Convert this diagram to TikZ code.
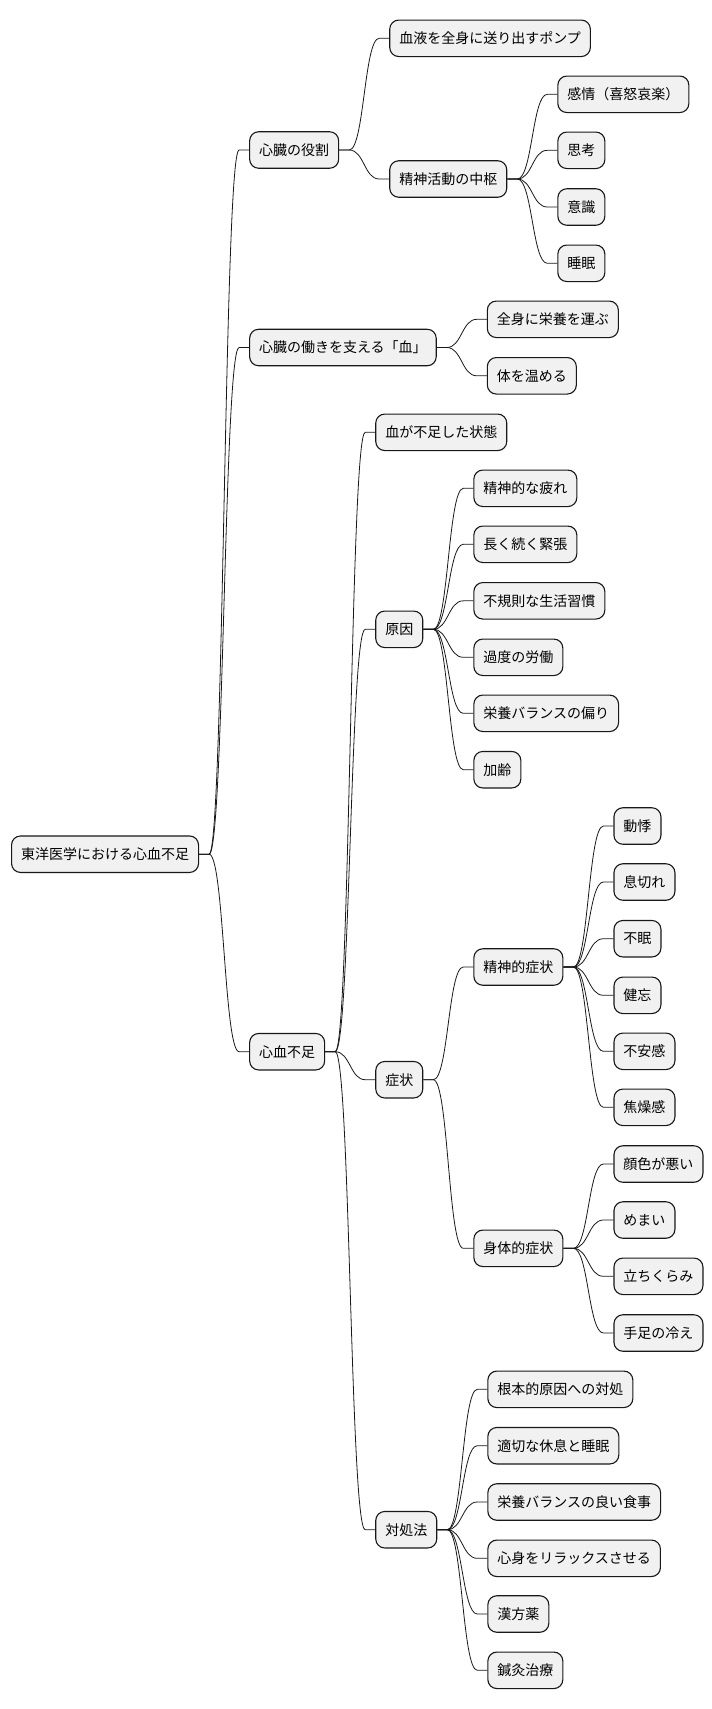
\documentclass[tikz,border=0pt]{standalone}
\usepackage{fontspec}
\setmainfont{Noto Sans CJK JP}
\usetikzlibrary{calc}
\definecolor{boxfill}{HTML}{F1F1F1}
\definecolor{boxline}{HTML}{181818}
\tikzset{
  mmbox/.style={draw=boxline, fill=boxfill, line width=1.1pt, rounded corners=9pt,
    minimum height=36.5pt, inner xsep=9.5pt, inner ysep=0pt, font=\fontsize{14pt}{16pt}\selectfont, text=black},
  mmline/.style={draw=boxline, line width=0.8pt}
}
\newcommand\kid[4]{%
  \path let \p1=(#1.east) in node[mmbox,anchor=west] (#2) at (\x1+50pt,-#3pt) {#4};
  \draw[mmline] let \p1=(#1.east), \p2=(#2.west) in (\p1) -- (\x1+10pt,\y1) .. controls ({(\x1+\x2)/2},\y1) and ({(\x1+\x2)/2},\y2) .. (\x2-10pt,\y2) -- (\p2);
}
\begin{document}
\begin{tikzpicture}[x=1pt,y=1pt]
\useasboundingbox (0,0) rectangle (712,-1709);
\node[mmbox,anchor=west] (root) at (11,-854.2) {東洋医学における心血不足};
\kid{root}{a}{150}{心臓の役割}
\kid{a}{a1}{38.3}{血液を全身に送り出すポンプ}
\kid{a}{a2}{179}{精神活動の中枢}
\kid{a2}{a21}{94.3}{感情（喜怒哀楽）}
\kid{a2}{a22}{150.3}{思考}
\kid{a2}{a23}{207}{意識}
\kid{a2}{a24}{263.3}{睡眠}
\kid{root}{b}{347.5}{心臓の働きを支える「血」}
\kid{b}{b1}{319.3}{全身に栄養を運ぶ}
\kid{b}{b2}{375.8}{体を温める}
\kid{root}{c}{1051.7}{心血不足}
\kid{c}{c1}{432.3}{血が不足した状態}
\kid{c}{c2}{629.3}{原因}
\kid{c2}{c21}{488.3}{精神的な疲れ}
\kid{c2}{c22}{544.3}{長く続く緊張}
\kid{c2}{c23}{600.8}{不規則な生活習慣}
\kid{c2}{c24}{657.3}{過度の労働}
\kid{c2}{c25}{713.3}{栄養バランスの偏り}
\kid{c2}{c26}{769.7}{加齢}
\kid{c}{c3}{1079.7}{症状}
\kid{c3}{c31}{967}{精神的症状}
\kid{c31}{c311}{826}{動悸}
\kid{c31}{c312}{882}{息切れ}
\kid{c31}{c313}{938.7}{不眠}
\kid{c31}{c314}{995.3}{健忘}
\kid{c31}{c315}{1051.3}{不安感}
\kid{c31}{c316}{1107.3}{焦燥感}
\kid{c3}{c32}{1248.3}{身体的症状}
\kid{c32}{c321}{1164}{顔色が悪い}
\kid{c32}{c322}{1220}{めまい}
\kid{c32}{c323}{1276.3}{立ちくらみ}
\kid{c32}{c324}{1333}{手足の冷え}
\kid{c}{c4}{1529.7}{対処法}
\kid{c4}{c41}{1389.3}{根本的原因への対処}
\kid{c4}{c42}{1445.7}{適切な休息と睡眠}
\kid{c4}{c43}{1502}{栄養バランスの良い食事}
\kid{c4}{c44}{1558.3}{心身をリラックスさせる}
\kid{c4}{c45}{1614}{漢方薬}
\kid{c4}{c46}{1670.3}{鍼灸治療}
\end{tikzpicture}
\end{document}
